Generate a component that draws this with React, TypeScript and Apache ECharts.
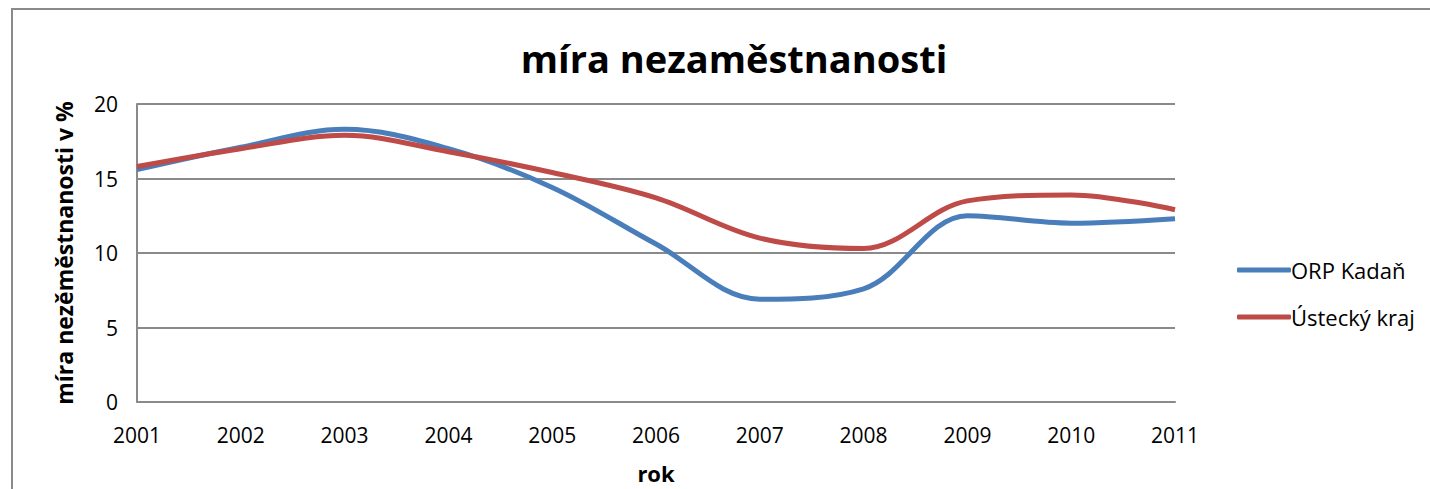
import React, { useEffect, useRef } from "react";
import * as echarts from "echarts";

const years = ["2001", "2002", "2003", "2004", "2005", "2006", "2007", "2008", "2009", "2010", "2011"];
const orpKadan = [15.6, 17.1, 18.3, 17.0, 14.4, 10.6, 6.9, 7.6, 12.5, 12.0, 12.3];
const ustecky = [15.8, 17.0, 17.9, 16.8, 15.4, 13.7, 11.0, 10.3, 13.5, 13.9, 12.9];
const seriesNames = ["ORP Kadaň", "Ústecký kraj"];
const yTicks = [0, 5, 10, 15, 20];

const FONT = "'Open Sans', 'Noto Sans', sans-serif";

export default function App() {
  const ref = useRef<HTMLDivElement>(null);
  useEffect(() => {
    if (!ref.current) return;
    const chart = echarts.init(ref.current, undefined, { renderer: "svg" });
    chart.setOption({
      animation: false,
      backgroundColor: "#ffffff",
      textStyle: { fontFamily: FONT },
      title: {
        text: "míra nezaměstnanosti",
        left: 729,
        top: 34,
        textAlign: "center",
        textStyle: { fontFamily: FONT, fontWeight: "bold", fontSize: 38, color: "#000" },
      },
      graphic: [
        {
          type: "rect",
          shape: { x: 12, y: 9, width: 1440, height: 500 },
          style: { fill: "none", stroke: "#8a8a8a", lineWidth: 2 },
          silent: true,
        },
      ],
      legend: {
        orient: "vertical",
        left: 1232,
        top: 254,
        itemWidth: 54,
        itemHeight: 5,
        itemGap: 25,
        icon: "roundRect",
        textStyle: { fontFamily: FONT, fontSize: 22, color: "#000", padding: [0, 0, 0, -5] },
        data: seriesNames,
      },
      grid: { left: 137, right: 255, top: 104, bottom: 86, containLabel: false },
      xAxis: {
        type: "category",
        data: years,
        boundaryGap: false,
        name: "rok",
        nameLocation: "middle",
        nameGap: 60,
        nameTextStyle: { fontFamily: FONT, fontWeight: "bold", fontSize: 22, color: "#000" },
        axisLine: { lineStyle: { color: "#8a8a8a", width: 2 } },
        axisTick: { show: false },
        axisLabel: { fontFamily: FONT, fontSize: 21, color: "#000", margin: 22 },
        splitLine: { show: false },
      },
      yAxis: {
        type: "value",
        min: yTicks[0],
        max: yTicks[yTicks.length - 1],
        interval: 5,
        name: "míra nezěměstnanosti v %",
        nameLocation: "middle",
        nameGap: 62,
        nameTextStyle: { fontFamily: FONT, fontWeight: "bold", fontSize: 23, color: "#000" },
        axisLine: { show: true, lineStyle: { color: "#8a8a8a", width: 2 } },
        axisTick: { show: false },
        axisLabel: { fontFamily: FONT, fontSize: 21, color: "#000", margin: 19 },
        splitLine: { show: true, lineStyle: { color: "#8a8a8a", width: 2 } },
      },
      series: [
        {
          name: seriesNames[0],
          type: "line",
          data: orpKadan,
          smooth: 0.35,
          symbol: "none",
          lineStyle: { color: "#4a7ebb", width: 5 },
          itemStyle: { color: "#4a7ebb" },
        },
        {
          name: seriesNames[1],
          type: "line",
          data: ustecky,
          smooth: 0.35,
          symbol: "none",
          lineStyle: { color: "#be4b48", width: 5 },
          itemStyle: { color: "#be4b48" },
        },
      ],
    });
    return () => chart.dispose();
  }, []);
  return (
    <div
      ref={ref}
      style={{ position: "fixed", left: 0, top: 0, width: 1430, height: 489 }}
    />
  );
}
